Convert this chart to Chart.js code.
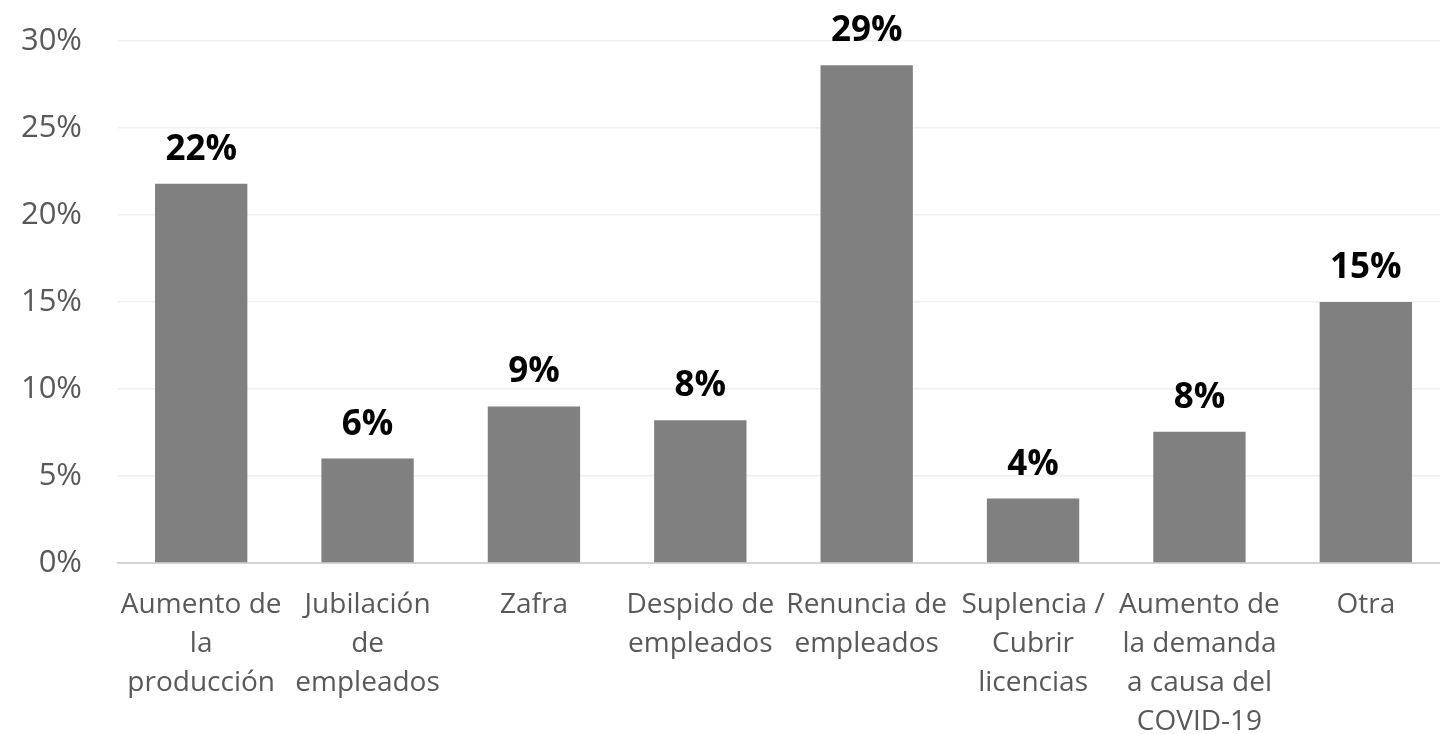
<!DOCTYPE html>
<html>
<head>
<meta charset="utf-8">
<script src="https://cdn.jsdelivr.net/npm/chart.js@4"></script>
<style>
  html, body { margin: 0; padding: 0; background: #fff; overflow: hidden; }
  #wrap { width: 1449px; height: 734px; }
</style>
</head>
<body>
<div id="wrap"><canvas id="chart"></canvas></div>
<script>
// categories (already split in lines like the original)
const categorias = [
  ['Aumento de', 'la', 'producción'],
  ['Jubilación', 'de', 'empleados'],
  ['Zafra'],
  ['Despido de', 'empleados'],
  ['Renuncia de', 'empleados'],
  ['Suplencia /', 'Cubrir', 'licencias'],
  ['Aumento de', 'la demanda', 'a causa del', 'COVID-19'],
  ['Otra']
];
// percentages
const valores = [21.8, 6.0, 9.0, 8.2, 28.6, 3.7, 7.55, 15.0];
const ticksY = [0, 5, 10, 15, 20, 25, 30];

// simple label plugin, draws the rounded value over each bar
const etiquetas = {
  id: 'etiquetas',
  afterDatasetsDraw(chart) {
    const ctx = chart.ctx;
    const meta = chart.getDatasetMeta(0);
    ctx.save();
    ctx.font = 'bold 35px "Open Sans"';
    ctx.fillStyle = '#000';
    ctx.textAlign = 'center';
    ctx.textBaseline = 'middle';
    meta.data.forEach((bar, i) => {
      ctx.fillText(Math.round(valores[i]) + '%', bar.x, bar.y - 34);
    });
    ctx.restore();
  }
};

const ctx = document.getElementById('chart').getContext('2d');
new Chart(ctx, {
  type: 'bar',
  data: {
    labels: categorias,
    datasets: [{
      data: valores,
      backgroundColor: '#808080',
      borderWidth: 0,
      categoryPercentage: 1,
      barPercentage: 0.555
    }]
  },
  options: {
    responsive: true,
    maintainAspectRatio: false,
    animation: false,
    layout: { padding: { top: 41, right: 0, left: 0, bottom: 0 } },
    plugins: { legend: { display: false }, tooltip: { enabled: false } },
    scales: {
      x: {
        grid: { display: false, drawTicks: false },
        border: { color: '#d4d4d4', width: 2 },
        ticks: {
          color: '#595959',
          font: { family: 'Open Sans', size: 28, lineHeight: 1.4 },
          padding: 22,
          maxRotation: 0,
          autoSkip: false
        },
        afterFit(scale) { scale.height = 171; scale.paddingLeft = 0; scale.paddingRight = 0; }
      },
      y: {
        min: 0,
        max: 30,
        afterBuildTicks(scale) { scale.ticks = ticksY.map(v => ({ value: v })); },
        grid: { color: '#efefef', lineWidth: 1.5, drawTicks: false },
        border: { display: false },
        ticks: {
          color: '#595959',
          font: { family: 'Open Sans', size: 31 },
          padding: 36,
          callback: v => v + '%'
        },
        afterFit(scale) { scale.width = 118; scale.paddingTop = 0; scale.paddingBottom = 0; }
      }
    }
  },
  plugins: [etiquetas]
});
</script>
</body>
</html>
